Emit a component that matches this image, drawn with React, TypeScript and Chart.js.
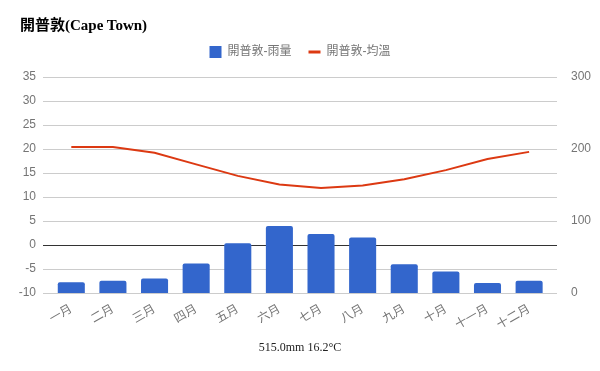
import React, { useEffect, useRef } from 'react';
import { Chart, registerables } from 'chart.js';

Chart.register(...registerables);

const months = ['一月', '二月', '三月', '四月', '五月', '六月', '七月', '八月', '九月', '十月', '十一月', '十二月'];
const rainfall = [15, 17, 20, 41, 69, 93, 82, 77, 40, 30, 14, 17];
const temperature = [20.4, 20.4, 19.2, 16.8, 14.4, 12.6, 11.9, 12.4, 13.7, 15.6, 17.9, 19.4];
const tempAxis = { min: -10, max: 35, step: 5 };
const rainAxis = { min: 0, max: 300, step: 100 };
const titleText = '開普敦(Cape Town)';
const rainLabel = '開普敦-雨量';
const tempLabel = '開普敦-均溫';
const footerText = '515.0mm 16.2°C';

const SANS = "'Liberation Sans', Arial, 'Noto Sans CJK TC', sans-serif";
const SERIF = "'Liberation Serif', 'Times New Roman', 'Noto Sans CJK TC', serif";

const legendSpacer = {
  id: 'legendSpacer',
  beforeInit(chart: any) {
    const legend = chart.legend;
    if (!legend) return;
    const origFit = legend.fit;
    legend.fit = function () {
      origFit.call(this);
      this.height += 9;
    };
  },
};

export default function App() {
  const ref = useRef<HTMLCanvasElement | null>(null);

  useEffect(() => {
    if (!ref.current) return;
    const defaultLabels = (Chart as any).defaults.plugins.legend.labels.generateLabels;
    const chart = new Chart(ref.current, {
      type: 'bar',
      data: {
        datasets: [
          {
            type: 'bar',
            label: rainLabel,
            data: rainfall.map((v, i) => ({ x: i, y: v })),
            backgroundColor: '#3366cc',
            borderWidth: 0,
            borderRadius: 2,
            yAxisID: 'yR',
            categoryPercentage: 1,
            barPercentage: 0.65,
            pointStyle: 'rect',
            order: 1,
          } as any,
          {
            type: 'line',
            label: tempLabel,
            data: temperature.map((v, i) => ({ x: i, y: v })),
            borderColor: '#dc3912',
            backgroundColor: '#dc3912',
            borderWidth: 2,
            pointRadius: 0,
            pointStyle: 'line',
            tension: 0,
            yAxisID: 'yT',
            order: 0,
          } as any,
        ],
      },
      options: {
        animation: false,
        responsive: false,
        devicePixelRatio: 1,
        layout: { padding: { top: 29, bottom: 28, left: 0, right: 0 } },
        plugins: {
          title: { display: false },
          tooltip: { enabled: false },
          legend: {
            display: true,
            position: 'top',
            labels: {
              usePointStyle: true,
              pointStyleWidth: 12,
              boxWidth: 12,
              boxHeight: 12,
              padding: 17,
              color: '#757575',
              font: { family: SANS, size: 12 },
              sort: (a: any, b: any) => a.datasetIndex - b.datasetIndex,
              generateLabels: (c: any) =>
                defaultLabels(c).map((it: any) => (it.pointStyle === 'line' ? { ...it, lineWidth: 3 } : it)),
            },
          },
        },
        scales: {
          x: {
            type: 'linear',
            offset: false,
            min: -0.68,
            max: 11.67,
            grid: { display: false },
            border: { display: false },
            afterFit: (s: any) => {
              s.height = 50;
            },
            ticks: {
              stepSize: 1,
              autoSkip: false,
              includeBounds: false,
              minRotation: 30,
              maxRotation: 30,
              padding: 1,
              color: '#757575',
              font: { family: SANS, size: 12 },
              callback: (v: any) => (Number.isInteger(v) && months[v] !== undefined ? months[v] : undefined),
            },
          } as any,
          yT: {
            type: 'linear',
            position: 'left',
            min: tempAxis.min,
            max: tempAxis.max,
            border: { display: false },
            afterFit: (s: any) => {
              s.width = 43;
            },
            grid: {
              drawTicks: false,
              color: (ctx: any) => (ctx.tick && ctx.tick.value === 0 ? '#333333' : '#cccccc'),
              lineWidth: 1,
            },
            ticks: {
              stepSize: tempAxis.step,
              padding: 7,
              color: '#757575',
              font: { family: SANS, size: 12 },
            },
          } as any,
          yR: {
            type: 'linear',
            position: 'right',
            min: rainAxis.min,
            max: rainAxis.max,
            border: { display: false },
            afterFit: (s: any) => {
              s.width = 43;
            },
            grid: { display: false, drawOnChartArea: false },
            ticks: {
              stepSize: rainAxis.step,
              padding: 6,
              color: '#757575',
              font: { family: SANS, size: 12 },
            },
          } as any,
        },
      },
      plugins: [legendSpacer],
    } as any);
    return () => chart.destroy();
  }, []);

  return (
    <div style={{ position: 'absolute', left: 0, top: 0, width: 600, height: 371, background: '#fff' }}>
      <canvas ref={ref} width={600} height={371} style={{ display: 'block', width: 600, height: 371 }} />
      <div
        style={{
          position: 'absolute',
          left: 20,
          top: 16,
          fontFamily: SERIF,
          fontWeight: 'bold',
          fontSize: 15,
          lineHeight: '18px',
          color: '#000',
          whiteSpace: 'nowrap',
        }}
      >
        {titleText}
      </div>
      <div
        style={{
          position: 'absolute',
          left: 0,
          top: 339,
          width: 600,
          textAlign: 'center',
          fontFamily: SERIF,
          fontSize: 12,
          lineHeight: '16px',
          color: '#222',
        }}
      >
        {footerText}
      </div>
    </div>
  );
}
